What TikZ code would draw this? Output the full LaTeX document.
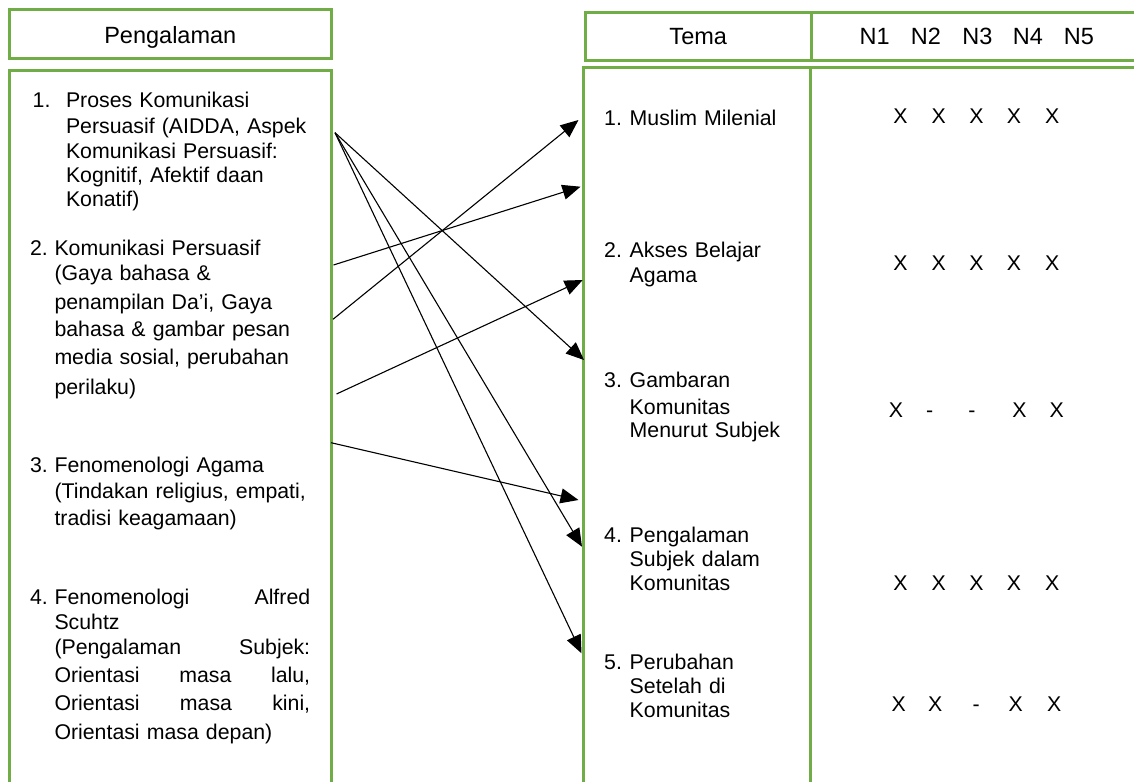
\documentclass[tikz,border=0pt]{standalone}
\usepackage{fontspec}
\setmainfont{Liberation Sans}
\usetikzlibrary{arrows.meta}
\definecolor{boxgreen}{RGB}{112,173,71}
\begin{document}
\begin{tikzpicture}[x=1pt,y=-1pt,
  frame/.style={draw=boxgreen, line width=3pt},
  txt/.style={inner sep=0pt, anchor=base west, align=left, text width=262pt,
    font=\fontsize{21.3}{25}\selectfont},
  num/.style={inner sep=0pt, anchor=base west, font=\fontsize{21.3}{25}\selectfont},
  hdr/.style={inner sep=0pt, anchor=base, font=\fontsize{23.5}{28}\selectfont},
  cell/.style={inner sep=0pt, anchor=base, font=\fontsize{21.3}{25}\selectfont},
  conn/.style={-{Triangle[length=18pt,width=15pt]}, line width=1.1pt}
]
\useasboundingbox (0,0) rectangle (1134,781);
\clip (0,0) rectangle (1134,781);
\fill[white] (0,0) rectangle (1134,781);

% boxes
\draw[frame] (9,10) rectangle (331.7,58.7);
\draw[frame] (9,71) rectangle (331.7,800);
\draw[frame] (585.7,12.3) rectangle (1150,60.3);
\draw[frame] (811,12.3) -- (811,60.3);
\draw[frame] (583.3,67.3) rectangle (1150,800);
\draw[frame] (810,67.3) -- (810,800);

% headers
\node[hdr] (hPeng) at (170.3,43.4) {Pengalaman};
\node[hdr] (hTema) at (698.2,45) {Tema};
\node[hdr] (hN1) at (874.7,45) {N1};
\node[hdr] (hN2) at (926,45) {N2};
\node[hdr] (hN3) at (977.3,45) {N3};
\node[hdr] (hN4) at (1028,45) {N4};
\node[hdr] (hN5) at (1079,45) {N5};

% left items
\node[num] (ln1) at (32.5,107.6) {1.};
\node[txt] (lt1) at (65.8,107.6) {Proses Komunikasi\\[1pt]
  Persuasif (AIDDA, Aspek\\
  Komunikasi Persuasif:\\[-1pt]
  Kognitif, Afektif daan\\[-1pt]
  Konatif)};

\node[num] (ln2) at (29.9,255.6) {2.};
\node[txt] (lt2) at (54.3,255.6) {Komunikasi Persuasif\\
  (Gaya bahasa \&\\[4pt]
  penampilan Da'i, Gaya\\[2pt]
  bahasa \& gambar pesan\\[3pt]
  media sosial, perubahan\\[5pt]
  perilaku)};

\node[num] (ln3) at (29.9,472.6) {3.};
\node[txt] (lt3) at (54.3,472.6) {Fenomenologi Agama\\[1pt]
  (Tindakan religius, empati,\\[2pt]
  tradisi keagamaan)};

\node[num] (ln4) at (29.9,604.6) {4.};
\node[txt] (lt4) at (54.3,604.6) {\makebox[255.7pt][l]{Fenomenologi\hfill Alfred}\\
  Scuhtz\\
  \makebox[255.7pt][l]{(Pengalaman\hfill Subjek:}\\[3pt]
  \makebox[255.7pt][l]{Orientasi\hfill masa\hfill lalu,}\\[3pt]
  \makebox[255.7pt][l]{Orientasi\hfill masa\hfill kini,}\\[4pt]
  Orientasi masa depan)};

% right items
\node[num] (rn1) at (604,125.6) {1.};
\node[txt] (rt1) at (629.5,125.6) {Muslim Milenial};
\node[num] (rn2) at (604,257.6) {2.};
\node[txt] (rt2) at (629.5,257.6) {Akses Belajar\\ Agama};
\node[num] (rn3) at (604,387.6) {3.};
\node[txt] (rt3) at (629.5,387.6) {Gambaran\\[2pt] Komunitas\\[-2pt] Menurut Subjek};
\node[num] (rn4) at (604,542.6) {4.};
\node[txt] (rt4) at (629.5,542.6) {Pengalaman\\[-1pt] Subjek dalam\\[-1pt] Komunitas};
\node[num] (rn5) at (604,669.6) {5.};
\node[txt] (rt5) at (629.5,669.6) {Perubahan\\[-1pt] Setelah di\\[-1pt] Komunitas};

% N-columns
\foreach \r/\y in {1/123.6,2/270.6,4/590.6}{
  \node[cell] (x\r a) at (900.4,\y) {X};
  \node[cell] (x\r b) at (938.8,\y) {X};
  \node[cell] (x\r c) at (976.5,\y) {X};
  \node[cell] (x\r d) at (1013.9,\y) {X};
  \node[cell] (x\r e) at (1052.3,\y) {X};
}
\node[cell] (x3a) at (896,417.6) {X};
\node[cell] (x3b) at (929.7,417.6) {-};
\node[cell] (x3c) at (971.8,417.6) {-};
\node[cell] (x3d) at (1019.4,417.6) {X};
\node[cell] (x3e) at (1056.7,417.6) {X};
\node[cell] (x5a) at (898.6,711.6) {X};
\node[cell] (x5b) at (935.2,711.6) {X};
\node[cell] (x5c) at (976.2,711.6) {-};
\node[cell] (x5d) at (1015.7,711.6) {X};
\node[cell] (x5e) at (1054.1,711.6) {X};

% connector ends
\coordinate (srcA) at (335,132.7);
\coordinate (srcB) at (333.5,265);
\coordinate (srcC) at (333,319.3);
\coordinate (srcD) at (336.5,394);
\coordinate (srcE) at (331,442.7);
\coordinate (tgt1) at (578.5,120);
\coordinate (tgt2) at (580.5,186.7);
\coordinate (tgt3) at (582.7,280);
\coordinate (tgt4) at (584,360);
\coordinate (tgt5) at (578.5,500);
\coordinate (tgt6) at (582,546.7);
\coordinate (tgt7) at (581.5,653.3);

\draw[conn] (srcA) -- (tgt4);
\draw[conn] (srcA) -- (tgt6);
\draw[conn] (srcA) -- (tgt7);
\draw[conn] (srcC) -- (tgt1);
\draw[conn] (srcB) -- (tgt2);
\draw[conn] (srcD) -- (tgt3);
\draw[conn] (srcE) -- (tgt5);
\end{tikzpicture}
\end{document}
